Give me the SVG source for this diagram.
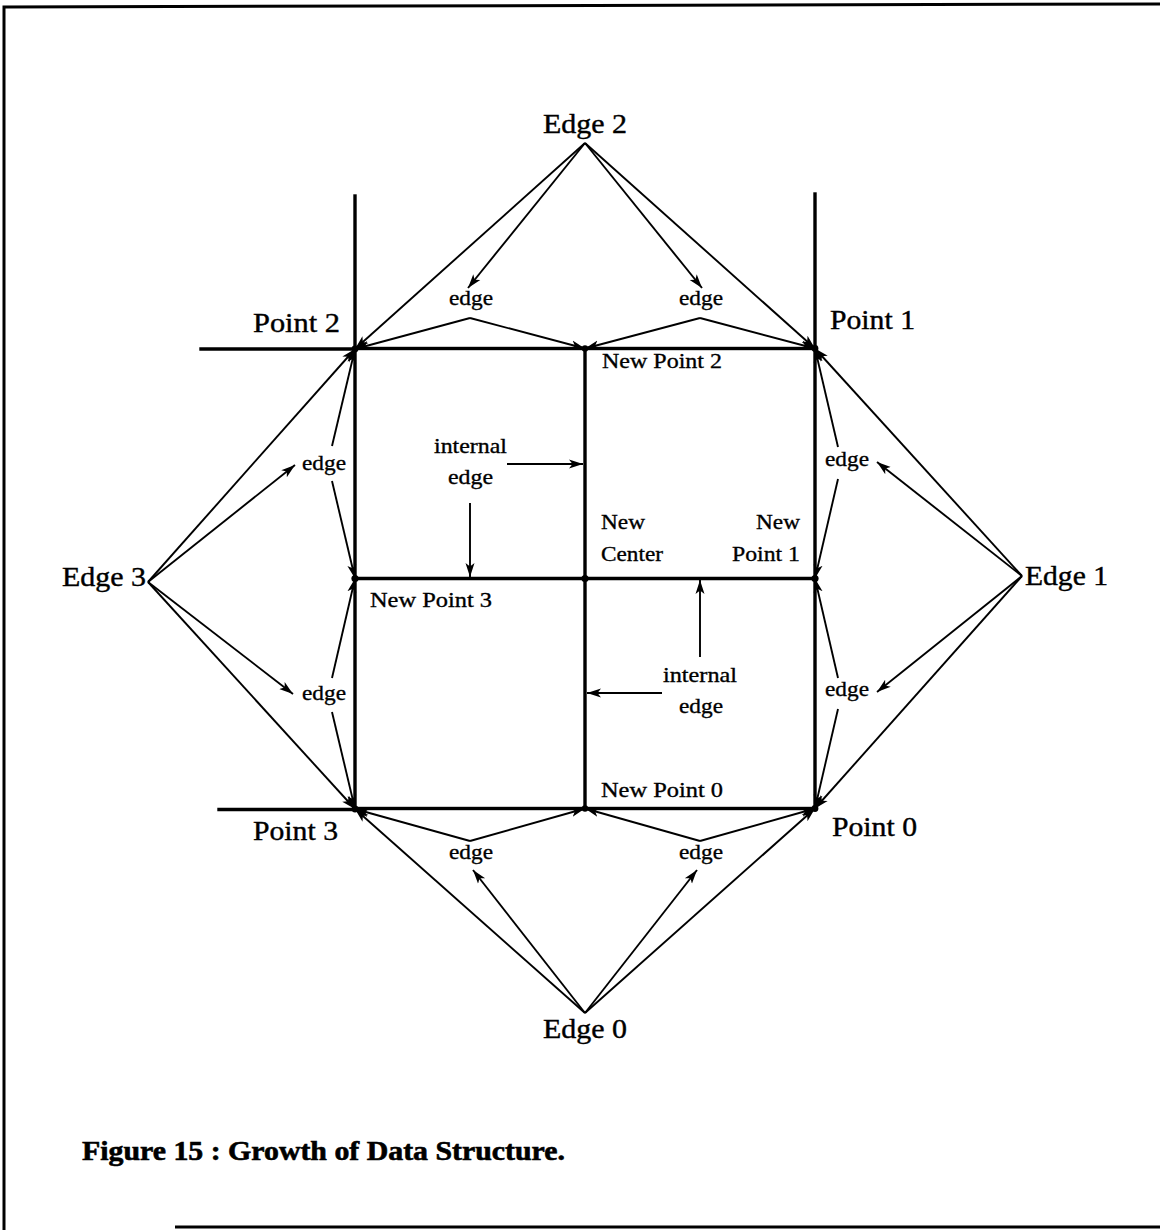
<svg xmlns="http://www.w3.org/2000/svg" width="1160" height="1230" viewBox="0 0 1160 1230">
  <style>
    .frame { fill: none; stroke: #000; stroke-width: 3; }
    .thick { fill: none; stroke: #000; stroke-width: 3.4; stroke-linecap: square; }
    .conn { fill: none; stroke: #000; stroke-width: 1.9; marker-end: url(#arrow); }
    .big { font-family: "Liberation Serif", "Times New Roman", serif; font-size: 27px; fill: #000; stroke: #000; stroke-width: 0.4; }
    .small { font-family: "Liberation Serif", "Times New Roman", serif; font-size: 22px; fill: #000; stroke: #000; stroke-width: 0.35; }
    .caption { font-family: "Liberation Serif", "Times New Roman", serif; font-size: 27px; font-weight: bold; fill: #000; stroke: #000; stroke-width: 0.6; }
    .dot { fill: #000; }
  </style>
  <defs>
    <marker id="arrow" markerUnits="userSpaceOnUse" markerWidth="16" markerHeight="11" refX="14" refY="5.5" orient="auto">
      <path d="M0,1 L14,5.5 L0,10 L3.5,5.5 Z" fill="#000"/>
    </marker>
  </defs>

  <rect width="1160" height="1230" fill="#fff"/>

  <!-- page frame -->
  <path class="frame" d="M4,1230 L4,7 L1160,4"/>
  <line class="frame" x1="175" y1="1227" x2="1160" y2="1227"/>

  <!-- grid of the subdivided cell -->
  <g id="grid">
    <rect class="thick" x="355" y="348.5" width="460" height="460"/>
    <line class="thick" x1="585" y1="348.5" x2="585" y2="808.5"/>
    <line class="thick" x1="355" y1="578.5" x2="815" y2="578.5"/>
    <line class="thick" x1="355" y1="196" x2="355" y2="348.5"/>
    <line class="thick" x1="201" y1="349" x2="355" y2="349"/>
    <line class="thick" x1="815" y1="194" x2="815" y2="348.5"/>
    <line class="thick" x1="219" y1="809.5" x2="355" y2="809.5"/>
  </g>

  <!-- vertices -->
  <g id="point-2"><circle class="dot" cx="355" cy="349" r="3.4"/><text class="big" x="253" y="332" textLength="87" lengthAdjust="spacingAndGlyphs">Point 2</text></g>
  <g id="point-1"><circle class="dot" cx="815" cy="348.5" r="3.4"/><text class="big" x="830" y="329" textLength="85" lengthAdjust="spacingAndGlyphs">Point 1</text></g>
  <g id="point-3"><circle class="dot" cx="355" cy="809" r="3.4"/><text class="big" x="253" y="840" textLength="85" lengthAdjust="spacingAndGlyphs">Point 3</text></g>
  <g id="point-0"><circle class="dot" cx="815" cy="808.5" r="3.4"/><text class="big" x="832" y="836" textLength="85" lengthAdjust="spacingAndGlyphs">Point 0</text></g>

  <g id="new-point-2"><circle class="dot" cx="585" cy="348.5" r="3.2"/><text class="small" x="602" y="368" textLength="120" lengthAdjust="spacingAndGlyphs">New Point 2</text></g>
  <g id="new-point-0"><circle class="dot" cx="585" cy="808.5" r="3.2"/><text class="small" x="601" y="797" textLength="122" lengthAdjust="spacingAndGlyphs">New Point 0</text></g>
  <g id="new-point-3"><circle class="dot" cx="355" cy="578.5" r="3.6"/><text class="small" x="370" y="607" textLength="122" lengthAdjust="spacingAndGlyphs">New Point 3</text></g>
  <g id="new-point-1"><circle class="dot" cx="815" cy="578.5" r="3.6"/>
    <text class="small" x="756" y="529" textLength="44" lengthAdjust="spacingAndGlyphs">New</text>
    <text class="small" x="732" y="561" textLength="68" lengthAdjust="spacingAndGlyphs">Point 1</text></g>
  <g id="new-center"><circle class="dot" cx="585" cy="578.5" r="3.6"/>
    <text class="small" x="601" y="529" textLength="44" lengthAdjust="spacingAndGlyphs">New</text>
    <text class="small" x="601" y="561" textLength="62" lengthAdjust="spacingAndGlyphs">Center</text></g>

  <!-- parent edges -->
  <g id="edge-2"><text class="big" x="543" y="133" textLength="84" lengthAdjust="spacingAndGlyphs">Edge 2</text></g>
  <g id="edge-3"><text class="big" x="62" y="586" textLength="84" lengthAdjust="spacingAndGlyphs">Edge 3</text></g>
  <g id="edge-1"><text class="big" x="1025" y="585" textLength="83" lengthAdjust="spacingAndGlyphs">Edge 1</text></g>
  <g id="edge-0"><text class="big" x="543" y="1038" textLength="84" lengthAdjust="spacingAndGlyphs">Edge 0</text></g>

  <!-- child edges -->
  <g id="edge-2a"><text class="small" x="449" y="305" textLength="44" lengthAdjust="spacingAndGlyphs">edge</text></g>
  <g id="edge-2b"><text class="small" x="679" y="305" textLength="44" lengthAdjust="spacingAndGlyphs">edge</text></g>
  <g id="edge-3a"><text class="small" x="302" y="470" textLength="44" lengthAdjust="spacingAndGlyphs">edge</text></g>
  <g id="edge-3b"><text class="small" x="302" y="700" textLength="44" lengthAdjust="spacingAndGlyphs">edge</text></g>
  <g id="edge-1a"><text class="small" x="825" y="466" textLength="44" lengthAdjust="spacingAndGlyphs">edge</text></g>
  <g id="edge-1b"><text class="small" x="825" y="696" textLength="44" lengthAdjust="spacingAndGlyphs">edge</text></g>
  <g id="edge-0a"><text class="small" x="449" y="859" textLength="44" lengthAdjust="spacingAndGlyphs">edge</text></g>
  <g id="edge-0b"><text class="small" x="679" y="859" textLength="44" lengthAdjust="spacingAndGlyphs">edge</text></g>

  <!-- internal edges -->
  <g id="internal-edge-a">
    <text class="small" x="434" y="453" textLength="73" lengthAdjust="spacingAndGlyphs">internal</text>
    <text class="small" x="448" y="484" textLength="45" lengthAdjust="spacingAndGlyphs">edge</text>
  </g>
  <g id="internal-edge-b">
    <text class="small" x="663" y="682" textLength="74" lengthAdjust="spacingAndGlyphs">internal</text>
    <text class="small" x="679" y="713" textLength="44" lengthAdjust="spacingAndGlyphs">edge</text>
  </g>

  <!-- connectors -->
  <g id="connectors">
    <!-- Edge 2 -->
    <line class="conn" x1="585" y1="143" x2="355" y2="349"/>
    <line class="conn" x1="585" y1="143" x2="815" y2="348.5"/>
    <line class="conn" x1="585" y1="143" x2="468" y2="288"/>
    <line class="conn" x1="585" y1="143" x2="702" y2="288"/>
    <line class="conn" x1="470" y1="318" x2="355" y2="349"/>
    <line class="conn" x1="470" y1="318" x2="585" y2="348.5"/>
    <line class="conn" x1="700" y1="318" x2="585" y2="348.5"/>
    <line class="conn" x1="700" y1="318" x2="815" y2="348.5"/>
    <!-- Edge 3 -->
    <line class="conn" x1="148" y1="582" x2="355" y2="349"/>
    <line class="conn" x1="148" y1="582" x2="355" y2="809"/>
    <line class="conn" x1="148" y1="582" x2="295" y2="465"/>
    <line class="conn" x1="148" y1="582" x2="293" y2="694"/>
    <line class="conn" x1="332" y1="446" x2="355" y2="349"/>
    <line class="conn" x1="332" y1="481" x2="355" y2="578.5"/>
    <line class="conn" x1="332" y1="678" x2="355" y2="578.5"/>
    <line class="conn" x1="332" y1="712" x2="355" y2="809"/>
    <!-- Edge 1 -->
    <line class="conn" x1="1022" y1="576" x2="815" y2="348.5"/>
    <line class="conn" x1="1022" y1="576" x2="815" y2="808.5"/>
    <line class="conn" x1="1022" y1="576" x2="877" y2="462"/>
    <line class="conn" x1="1022" y1="576" x2="877" y2="692"/>
    <line class="conn" x1="838" y1="447" x2="815" y2="348.5"/>
    <line class="conn" x1="838" y1="479" x2="815" y2="578.5"/>
    <line class="conn" x1="838" y1="678" x2="815" y2="578.5"/>
    <line class="conn" x1="838" y1="709" x2="815" y2="808.5"/>
    <!-- Edge 0 -->
    <line class="conn" x1="585" y1="1013" x2="355" y2="809"/>
    <line class="conn" x1="585" y1="1013" x2="815" y2="808.5"/>
    <line class="conn" x1="585" y1="1013" x2="473" y2="870"/>
    <line class="conn" x1="585" y1="1013" x2="697" y2="870"/>
    <line class="conn" x1="470" y1="841" x2="355" y2="809"/>
    <line class="conn" x1="470" y1="841" x2="585" y2="808.5"/>
    <line class="conn" x1="700" y1="841" x2="585" y2="808.5"/>
    <line class="conn" x1="700" y1="841" x2="815" y2="808.5"/>
    <!-- internal edge pointers -->
    <line class="conn" x1="507" y1="464" x2="583" y2="464"/>
    <line class="conn" x1="470" y1="503" x2="470" y2="577"/>
    <line class="conn" x1="700" y1="657" x2="700" y2="580"/>
    <line class="conn" x1="662" y1="693" x2="587" y2="693"/>
  </g>

  <text class="caption" x="82" y="1160" textLength="483" lengthAdjust="spacingAndGlyphs">Figure 15 : Growth of Data Structure.</text>
</svg>
